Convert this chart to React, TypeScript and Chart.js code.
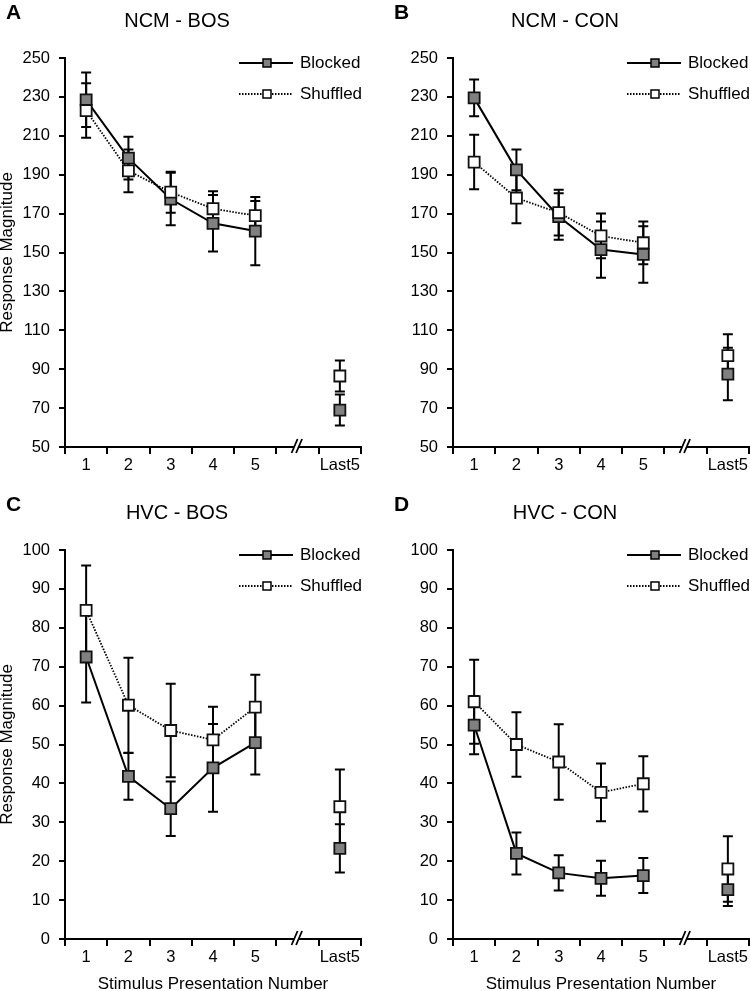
import { useEffect, useRef } from "react";
import { Chart, registerables } from "chart.js";

Chart.register(...registerables);

// x categories; the blank one holds the axis break
const categories = ["1", "2", "3", "4", "5", "", "Last5"];
const seriesNames = ["Blocked", "Shuffled"];

// A: NCM - BOS
const ncmBosBlocked = [228.5, 198.5, 177.5, 165, 161, null, 69];
const ncmBosBlockedErr = [14, 11, 13.5, 14.5, 17.5, null, 8];
const ncmBosShuffled = [223, 192, 181, 172.5, 169, null, 86.5];
const ncmBosShuffledErr = [14, 11, 10.5, 9, 7.5, null, 8];

// B: NCM - CON
const ncmConBlocked = [229.5, 192.5, 168.5, 151.5, 149, null, 87.5];
const ncmConBlockedErr = [9.5, 10.5, 12, 14.5, 14.5, null, 13.5];
const ncmConShuffled = [196.5, 178, 170.5, 158.5, 155, null, 97];
const ncmConShuffledErr = [14, 13, 11.7, 11.5, 11, null, 11];

// C: HVC - BOS
const hvcBosBlocked = [72.5, 41.8, 33.5, 44, 50.5, null, 23.3];
const hvcBosBlockedErr = [11.7, 6, 7, 11.3, 8.2, null, 6.2];
const hvcBosShuffled = [84.5, 60.1, 53.6, 51.2, 59.6, null, 34];
const hvcBosShuffledErr = [11.5, 12.2, 12, 8.5, 8.3, null, 9.6];

// D: HVC - CON
const hvcConBlocked = [55, 22, 17, 15.6, 16.3, null, 12.7];
const hvcConBlockedErr = [7.5, 5.4, 4.5, 4.5, 4.5, null, 4.2];
const hvcConShuffled = [61, 50, 45.5, 37.7, 39.9, null, 18];
const hvcConShuffledErr = [10.8, 8.3, 9.7, 7.4, 7.1, null, 8.4];

const FONT = "'Liberation Sans', Arial, sans-serif";
const GRAY = "#808080";

type Val = number | null;

type PanelProps = {
  letter: string;
  title: string;
  blocked: Val[];
  blockedErr: Val[];
  shuffled: Val[];
  shuffledErr: Val[];
  yMin: number;
  yMax: number;
  yStep: number;
  yTitle: boolean;
  xTitle: boolean;
  left: number;
  top: number;
};

const errorBars = {
  id: "errorBars",
  beforeDatasetsDraw(chart: any) {
    const { ctx } = chart;
    const y = chart.scales.y;
    chart.data.datasets.forEach((ds: any, i: number) => {
      const meta = chart.getDatasetMeta(i);
      meta.data.forEach((pt: any, j: number) => {
        const v = ds.data[j];
        const e = ds.errors[j];
        if (v == null || e == null) return;
        const x = pt.x;
        const hi = y.getPixelForValue(v + e);
        const lo = y.getPixelForValue(v - e);
        ctx.save();
        ctx.strokeStyle = "#000";
        ctx.lineWidth = 2;
        ctx.beginPath();
        ctx.moveTo(x, hi);
        ctx.lineTo(x, lo);
        ctx.moveTo(x - 5, hi);
        ctx.lineTo(x + 5, hi);
        ctx.moveTo(x - 5, lo);
        ctx.lineTo(x + 5, lo);
        ctx.stroke();
        ctx.restore();
      });
    });
  },
};

function Panel(p: PanelProps) {
  const ref = useRef<HTMLCanvasElement>(null);

  useEffect(() => {
    if (!ref.current) return;

    const decor = {
      id: "decor",
      afterDraw(chart: any) {
        const { ctx, chartArea: a } = chart;
        const xs = chart.scales.x;
        ctx.save();
        ctx.fillStyle = "#000";

        // panel letter and title
        ctx.textBaseline = "alphabetic";
        ctx.textAlign = "left";
        ctx.font = `bold 21px ${FONT}`;
        ctx.fillText(p.letter, a.left - 59, 19);
        ctx.textAlign = "center";
        ctx.font = `20px ${FONT}`;
        ctx.fillText(p.title, a.left + 112, 27);

        // axis break
        const bx = xs.getPixelForValue(5);
        const by = a.bottom;
        ctx.fillStyle = "#fff";
        ctx.beginPath();
        ctx.moveTo(bx - 5, by + 3);
        ctx.lineTo(bx - 1, by + 3);
        ctx.lineTo(bx + 2, by - 3);
        ctx.lineTo(bx - 2, by - 3);
        ctx.closePath();
        ctx.fill();
        ctx.strokeStyle = "#000";
        ctx.lineWidth = 1.8;
        ctx.beginPath();
        ctx.moveTo(bx - 6, by + 6);
        ctx.lineTo(bx, by - 8);
        ctx.moveTo(bx - 1.5, by + 6);
        ctx.lineTo(bx + 4.5, by - 8);
        ctx.stroke();

        // legend
        const rows = [
          { name: seriesNames[0], y: a.top + 5, dash: [] as number[], w: 2, fill: GRAY },
          { name: seriesNames[1], y: a.top + 36, dash: [1.5, 1.5], w: 1.8, fill: "#fff" },
        ];
        rows.forEach((r) => {
          ctx.strokeStyle = "#000";
          ctx.lineWidth = r.w;
          ctx.setLineDash(r.dash);
          ctx.beginPath();
          ctx.moveTo(a.left + 174, r.y);
          ctx.lineTo(a.left + 228, r.y);
          ctx.stroke();
          ctx.setLineDash([]);
          ctx.fillStyle = r.fill;
          ctx.lineWidth = 1.5;
          ctx.fillRect(a.left + 198, r.y - 4, 8, 8);
          ctx.strokeRect(a.left + 198, r.y - 4, 8, 8);
          ctx.fillStyle = "#000";
          ctx.font = `17px ${FONT}`;
          ctx.textAlign = "left";
          ctx.textBaseline = "middle";
          ctx.fillText(r.name, a.left + 235, r.y);
        });
        ctx.restore();
      },
    };

    const chart = new Chart(ref.current, {
      type: "line",
      data: {
        labels: categories,
        datasets: [
          {
            label: seriesNames[1],
            data: p.shuffled,
            errors: p.shuffledErr,
            order: 0,
            borderColor: "#000",
            borderWidth: 1.8,
            borderDash: [1.5, 1.5],
            pointStyle: "rect",
            pointRadius: 7.8,
            pointBorderWidth: 1.8,
            pointBackgroundColor: "#fff",
            pointBorderColor: "#111",
            spanGaps: false,
          } as any,
          {
            label: seriesNames[0],
            data: p.blocked,
            errors: p.blockedErr,
            order: 1,
            borderColor: "#000",
            borderWidth: 2,
            pointStyle: "rect",
            pointRadius: 7.8,
            pointBorderWidth: 1.8,
            pointBackgroundColor: GRAY,
            pointBorderColor: "#111",
            spanGaps: false,
          } as any,
        ],
      },
      options: {
        responsive: false,
        animation: false,
        layout: { padding: { left: 0, top: 58, right: 29, bottom: 0 } },
        plugins: {
          legend: { display: false },
          tooltip: { enabled: false },
        },
        scales: {
          x: {
            offset: true,
            grid: {
              offset: true,
              drawOnChartArea: false,
              drawTicks: true,
              tickLength: 7,
              color: "#000",
              lineWidth: 2,
            },
            border: { display: true, color: "#000", width: 2 },
            ticks: {
              color: "#000",
              padding: 2,
              maxRotation: 0,
              autoSkip: false,
              font: { family: FONT, size: 16.5 },
            },
            title: {
              display: p.xTitle,
              text: "Stimulus Presentation Number",
              color: "#000",
              padding: { top: 0, bottom: 0 },
              font: { family: FONT, size: 17 },
            },
            afterFit: (s: any) => {
              s.height = 56;
            },
          },
          y: {
            min: p.yMin,
            max: p.yMax,
            grid: {
              drawOnChartArea: false,
              drawTicks: true,
              tickLength: 6,
              color: "#000",
              lineWidth: 2,
            },
            border: { display: true, color: "#000", width: 2 },
            ticks: {
              stepSize: p.yStep,
              color: "#000",
              padding: 9,
              font: { family: FONT, size: 16.5 },
            },
            title: {
              display: p.yTitle,
              text: "Response Magnitude",
              color: "#000",
              padding: { top: -3, bottom: 0 },
              font: { family: FONT, size: 17 },
            },
            afterFit: (s: any) => {
              s.width = 65;
            },
          },
        },
      },
      plugins: [errorBars, decor],
    } as any);

    return () => {
      chart.destroy();
    };
  }, [ref]);

  return (
    <canvas
      ref={ref}
      width={390}
      height={503}
      style={{ position: "absolute", left: p.left, top: p.top, width: 390, height: 503 }}
    />
  );
}

export default function App() {
  return (
    <div
      style={{
        position: "absolute",
        left: 0,
        top: 0,
        width: 750,
        height: 991,
        overflow: "hidden",
        background: "#fff",
      }}
    >
      <Panel
        letter="A"
        title="NCM - BOS"
        blocked={ncmBosBlocked}
        blockedErr={ncmBosBlockedErr}
        shuffled={ncmBosShuffled}
        shuffledErr={ncmBosShuffledErr}
        yMin={50}
        yMax={250}
        yStep={20}
        yTitle={true}
        xTitle={false}
        left={0}
        top={0}
      />
      <Panel
        letter="B"
        title="NCM - CON"
        blocked={ncmConBlocked}
        blockedErr={ncmConBlockedErr}
        shuffled={ncmConShuffled}
        shuffledErr={ncmConShuffledErr}
        yMin={50}
        yMax={250}
        yStep={20}
        yTitle={false}
        xTitle={false}
        left={388}
        top={0}
      />
      <Panel
        letter="C"
        title="HVC - BOS"
        blocked={hvcBosBlocked}
        blockedErr={hvcBosBlockedErr}
        shuffled={hvcBosShuffled}
        shuffledErr={hvcBosShuffledErr}
        yMin={0}
        yMax={100}
        yStep={10}
        yTitle={true}
        xTitle={true}
        left={0}
        top={492}
      />
      <Panel
        letter="D"
        title="HVC - CON"
        blocked={hvcConBlocked}
        blockedErr={hvcConBlockedErr}
        shuffled={hvcConShuffled}
        shuffledErr={hvcConShuffledErr}
        yMin={0}
        yMax={100}
        yStep={10}
        yTitle={false}
        xTitle={true}
        left={388}
        top={492}
      />
    </div>
  );
}
